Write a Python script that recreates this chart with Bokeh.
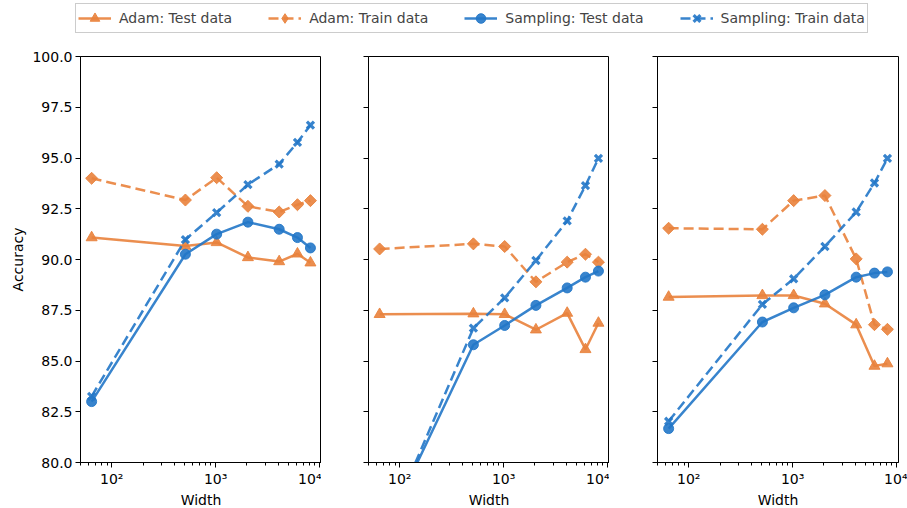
import numpy as np
from bokeh.plotting import figure
from bokeh.models import (Range1d, FixedTicker, PrintfTickFormatter, Legend, LegendItem,
                          ColumnDataSource)
from bokeh.layouts import column, row
from bokeh.embed import file_html
from bokeh.resources import INLINE

# ---------------- data ----------------
widths = [64, 512, 1024, 2048, 4096, 6144, 8192]

adam_test_1 = [91.08, 90.66, 90.84, 90.10, 89.90, 90.28, 89.84]
adam_train_1 = [94.00, 92.93, 94.03, 92.62, 92.34, 92.70, 92.90]
samp_test_1 = [83.00, 90.26, 91.25, 91.84, 91.49, 91.08, 90.57]
samp_train_1 = [83.26, 90.98, 92.31, 93.69, 94.70, 95.77, 96.62]

adam_test_2 = [87.30, 87.33, 87.30, 86.54, 87.36, 85.57, 86.87]
adam_train_2 = [90.52, 90.77, 90.64, 88.90, 89.87, 90.26, 89.87]
samp_test_2 = [76.10, 85.80, 86.75, 87.74, 88.60, 89.13, 89.43]
samp_train_2 = [75.90, 86.62, 88.11, 89.95, 91.90, 93.64, 94.98]

adam_test_3 = [88.15, 88.23, 88.23, 87.82, 86.79, 84.75, 84.87]
adam_train_3 = [91.54, 91.49, 92.90, 93.15, 90.03, 86.79, 86.56]
samp_test_3 = [81.67, 86.92, 87.62, 88.26, 89.13, 89.33, 89.39]
samp_train_3 = [82.03, 87.79, 89.05, 90.64, 92.34, 93.77, 94.98]

y_ticks = [80.0, 82.5, 85.0, 87.5, 90.0, 92.5, 95.0, 97.5, 100.0]
x_ticks = [100, 1000, 10000]
x_tick_labels = {100: "10²", 1000: "10³", 10000: "10⁴"}
minor_x = [50, 60, 70, 80, 90, 200, 300, 400, 500, 600, 700, 800, 900,
           2000, 3000, 4000, 5000, 6000, 7000, 8000, 9000]

series_names = ["Adam: Test data", "Adam: Train data", "Sampling: Test data", "Sampling: Train data"]

ORANGE = "#e9823c"
BLUE = "#2277c8"
FONT = "DejaVu Sans"

styles = [
    dict(color=ORANGE, dash="solid", marker="triangle", size=11, angle=0.0, lw_m=1),
    dict(color=ORANGE, dash="10 5", marker="square", size=8.5, angle=np.pi / 4, lw_m=1),
    dict(color=BLUE, dash="solid", marker="circle", size=10, angle=0.0, lw_m=1),
    dict(color=BLUE, dash="10 5", marker="x", size=10, angle=0.0, lw_m=3.2),
]
legend_markers = ["triangle", "diamond", "circle", "x"]


def draw_series(p, xs, ys, st, marker=None):
    src = ColumnDataSource(dict(x=xs, y=ys))
    lr = p.line("x", "y", source=src, line_color=st["color"], line_width=2.5,
                line_dash=st["dash"], line_alpha=0.9)
    sr = p.scatter("x", "y", source=src, marker=marker or st["marker"], size=st["size"],
                   angle=st["angle"], fill_color=st["color"], line_color=st["color"],
                   line_width=st["lw_m"], fill_alpha=0.9, line_alpha=0.9)
    return lr, sr


def make_panel(data, left_border, right_border, show_labels):
    p = figure(x_axis_type="log", x_range=Range1d(50, 10470), y_range=Range1d(80, 100),
               frame_width=241, frame_height=406, output_backend="svg",
               toolbar_location=None, min_border_left=left_border,
               min_border_right=right_border, min_border_top=16, min_border_bottom=46)
    p.xgrid.visible = False
    p.ygrid.visible = False
    p.outline_line_color = "black"
    p.outline_line_width = 1
    p.background_fill_color = "white"
    p.border_fill_color = "white"

    p.xaxis.ticker = FixedTicker(ticks=x_ticks, minor_ticks=minor_x)
    p.xaxis.major_label_overrides = x_tick_labels
    p.xaxis.axis_label = "Width"
    p.yaxis.ticker = FixedTicker(ticks=y_ticks)
    p.yaxis.formatter = PrintfTickFormatter(format="%.1f")
    if show_labels:
        p.yaxis.axis_label = "Accuracy"
    else:
        p.yaxis.major_label_overrides = {t: "" for t in y_ticks}

    for ax in (p.xaxis[0], p.yaxis[0]):
        ax.axis_line_color = "black"
        ax.major_tick_line_color = "black"
        ax.minor_tick_line_color = "black"
        ax.major_tick_out = 5
        ax.major_tick_in = 0
        ax.minor_tick_out = 3
        ax.minor_tick_in = 0
        ax.major_label_text_font = FONT
        ax.major_label_text_font_size = "14px"
        ax.axis_label_text_font = FONT
        ax.axis_label_text_font_style = "normal"
        ax.axis_label_text_font_size = "14px"
        ax.axis_label_text_color = "black"
        ax.major_label_text_color = "black"
        ax.axis_label_standoff = 3
        ax.major_label_standoff = 3
    p.xaxis.axis_label_standoff = 2
    p.xaxis.major_label_standoff = 3

    for ys, st in zip(data, styles):
        draw_series(p, widths, ys, st)
    return p


p1 = make_panel([adam_test_1, adam_train_1, samp_test_1, samp_train_1], 80, 0, True)
p2 = make_panel([adam_test_2, adam_train_2, samp_test_2, samp_train_2], 47, 0, False)
p3 = make_panel([adam_test_3, adam_train_3, samp_test_3, samp_train_3], 48, 9, False)

# legend figure on top (its dummy renderers lie outside the visible range)
pl = figure(width=907, height=40, x_range=Range1d(0, 1), y_range=Range1d(0, 1),
            output_backend="svg", toolbar_location=None, min_border=0,
            x_axis_location=None, y_axis_location=None)
pl.xgrid.visible = False
pl.ygrid.visible = False
pl.outline_line_color = None
items = []
for name, st, mk in zip(series_names, styles, legend_markers):
    lr, sr = draw_series(pl, [-5, -4], [-5, -4], st, marker=mk)
    items.append(LegendItem(label=name, renderers=[lr, sr]))
legend = Legend(items=items, orientation="horizontal", location=(75, 7),
                label_text_font=FONT, label_text_font_size="14px",
                glyph_width=33, glyph_height=24, label_standoff=8, spacing=36,
                padding=2, border_line_color="#cccccc", border_line_width=1,
                border_line_alpha=1.0, background_fill_alpha=1.0, margin=0)
pl.add_layout(legend, "center")

layout = column(pl, row(p1, p2, p3, spacing=0), spacing=0)

open("out.html", "w").write(file_html(layout, INLINE))
